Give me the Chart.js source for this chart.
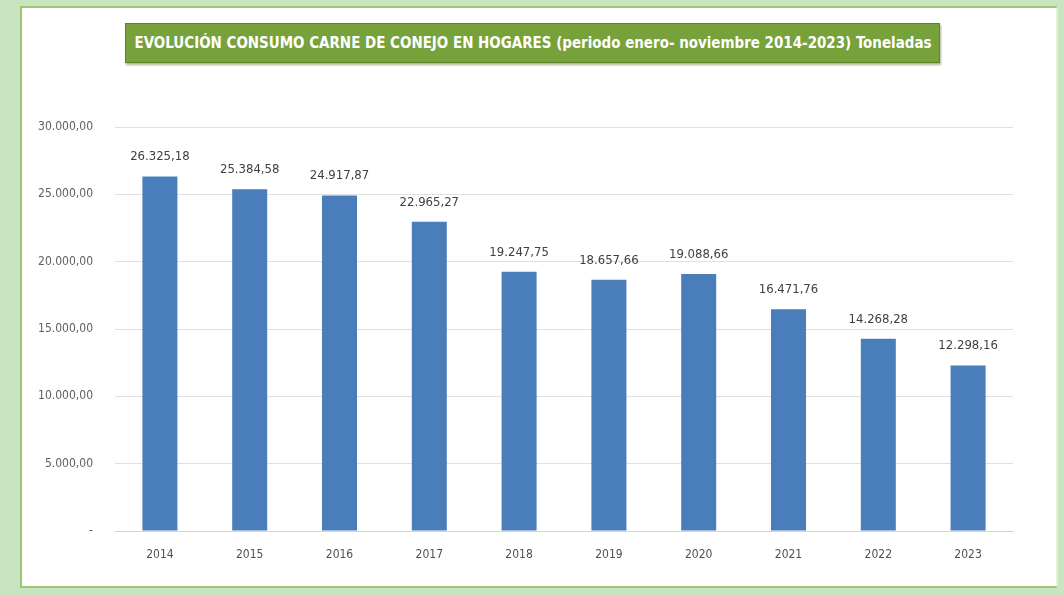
<!DOCTYPE html>
<html>
<head>
<meta charset="utf-8">
<script src="https://cdn.jsdelivr.net/npm/chart.js@4/dist/chart.umd.min.js"></script>
<style>
  html, body { margin: 0; padding: 0; }
  body { width: 1064px; height: 596px; background: #c7e5c1; position: relative; overflow: hidden; }
  #panel { position: absolute; left: 20px; top: 6px; width: 1034px; height: 578px; background: #ffffff; border: 2px solid #9fc56f; border-right-color: #e4efd9; }
  #title { position: absolute; left: 125px; top: 23px; width: 813px; height: 38px; background: #77a23b; border: 1px solid #5d8429; box-shadow: 1px 2px 2px rgba(60,90,30,0.45); overflow: hidden; }
  #titleText { position: absolute; left: 50%; top: 0; color: #ffffff; font-family: 'Liberation Sans Narrow', 'DejaVu Sans Condensed', 'Liberation Sans', sans-serif; font-weight: bold; font-size: 16px; line-height: 38px; white-space: nowrap; transform-origin: center center; transform: translateX(-50%); }
  #wrap { position: absolute; left: 0; top: 0; width: 1064px; height: 596px; }
</style>
</head>
<body>
<div id="panel"></div>
<div id="title"><span id="titleText">EVOLUCIÓN CONSUMO CARNE DE CONEJO EN HOGARES (periodo enero- noviembre 2014-2023) Toneladas</span></div>
<div id="wrap"><canvas id="c" width="1064" height="596"></canvas></div>
<script>
const years = ['2014','2015','2016','2017','2018','2019','2020','2021','2022','2023'];
const consumo = [26325.18, 25384.58, 24917.87, 22965.27, 19247.75, 18657.66, 19088.66, 16471.76, 14268.28, 12298.16];
const yTicks = [0, 5000, 10000, 15000, 20000, 25000, 30000];

function fmt(v) {
  const parts = v.toFixed(2).split('.');
  const intPart = parts[0].replace(/\B(?=(\d{3})+(?!\d))/g, '.');
  return intPart + ',' + parts[1];
}

const FONT = "'Liberation Sans Narrow', 'DejaVu Sans Condensed', 'Liberation Sans', sans-serif";

const valueLabels = {
  id: 'valueLabels',
  afterDatasetsDraw(chart) {
    const ctx = chart.ctx;
    const meta = chart.getDatasetMeta(0);
    ctx.save();
    ctx.font = "13px " + FONT;
    ctx.fillStyle = '#404040';
    ctx.textAlign = 'center';
    ctx.textBaseline = 'bottom';
    meta.data.forEach((bar, i) => {
      ctx.fillText(fmt(consumo[i]), bar.x, bar.y - 13);
    });
    ctx.restore();
  }
};

new Chart(document.getElementById('c'), {
  type: 'bar',
  data: {
    labels: years,
    datasets: [{
      data: consumo,
      backgroundColor: '#4a7ebb',
      borderWidth: 0,
      barPercentage: 0.39,
      categoryPercentage: 1.0
    }]
  },
  options: {
    responsive: false,
    animation: false,
    layout: { padding: { top: 127, right: 51, bottom: 25, left: 0 } },
    plugins: { legend: { display: false }, tooltip: { enabled: false }, title: { display: false } },
    scales: {
      x: {
        grid: { display: false, drawTicks: false },
        border: { display: true, color: '#d4d4d4', width: 1 },
        ticks: { color: '#505050', font: { family: FONT, size: 12 }, padding: 17, maxRotation: 0 },
        afterFit(scale) { scale.height = 40; }
      },
      y: {
        min: 0, max: 30000,
        afterBuildTicks(scale) { scale.ticks = yTicks.map(v => ({ value: v })); },
        grid: { color: '#e0e0e0', lineWidth: 1, drawTicks: false },
        border: { display: false },
        ticks: {
          color: '#606060',
          font: { family: FONT, size: 12 },
          padding: 22,
          callback: (v) => v === 0 ? '-' : fmt(v)
        },
        afterFit(scale) { scale.width = 115; }
      }
    }
  },
  plugins: [valueLabels]
});

// fit title text to the reference width
(function () {
  const s = document.getElementById('titleText');
  const w = s.getBoundingClientRect().width;
  const target = 797;
  s.style.transform = 'translateX(-50%) scaleX(' + (target / w) + ')';
})();
</script>
</body>
</html>
